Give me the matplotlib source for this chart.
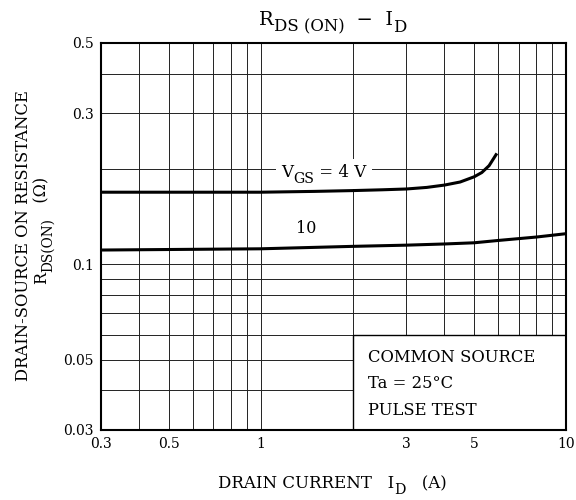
import matplotlib
matplotlib.use("Agg")
import matplotlib.pyplot as plt
from matplotlib.patches import Rectangle
from matplotlib.ticker import FixedLocator, NullFormatter
from matplotlib.transforms import IdentityTransform

plt.rcParams['font.family'] = ['DejaVu Serif']

# VGS = 4 V curve
id_4v = [0.3, 0.5, 1, 1.5, 2, 2.5, 3, 3.5, 4, 4.5, 5, 5.3, 5.6, 5.9]
r_4v = [0.169, 0.169, 0.169, 0.170, 0.171, 0.172, 0.173, 0.175, 0.178, 0.182, 0.189, 0.195, 0.205, 0.222]

# VGS = 10 V curve
id_10v = [0.3, 1, 2, 3, 4, 5, 6, 8, 10]
r_10v = [0.111, 0.112, 0.114, 0.115, 0.116, 0.117, 0.119, 0.122, 0.125]

x_major = [0.3, 0.5, 1, 3, 5, 10]
x_labels = ['0.3', '0.5', '1', '3', '5', '10']
x_minor = [0.4, 0.6, 0.7, 0.8, 0.9, 2, 4, 6, 7, 8, 9]
y_major = [0.03, 0.05, 0.1, 0.3, 0.5]
y_labels = ['0.03', '0.05', '0.1', '0.3', '0.5']
y_minor = [0.04, 0.06, 0.07, 0.08, 0.09, 0.2, 0.4]

fig = plt.figure(figsize=(5.76, 5.0), dpi=100)
ax = fig.add_axes([101/576, 1-430/500, 465/576, 387/500])
ax.set_xscale('log')
ax.set_yscale('log')
ax.set_xlim(0.3, 10)
ax.set_ylim(0.03, 0.5)

ax.xaxis.set_major_locator(FixedLocator(x_major))
ax.xaxis.set_minor_locator(FixedLocator(x_minor))
ax.yaxis.set_major_locator(FixedLocator(y_major))
ax.yaxis.set_minor_locator(FixedLocator(y_minor))
ax.set_xticklabels(x_labels)
ax.set_yticklabels(y_labels)
ax.xaxis.set_minor_formatter(NullFormatter())
ax.yaxis.set_minor_formatter(NullFormatter())
ax.tick_params(which='both', length=0, labelsize=10)
ax.tick_params(axis='x', pad=5)
ax.tick_params(axis='y', pad=5)
ax.grid(which='both', color='#222222', linewidth=0.7)
ax.set_axisbelow(True)
for s in ax.spines.values():
    s.set_linewidth(1.5)

ax.plot(id_4v, r_4v, color='black', linewidth=2.2, zorder=3)
ax.plot(id_10v, r_10v, color='black', linewidth=2.2, zorder=3)

renderer = fig.canvas.get_renderer()


def rich_text(host, x, y, parts, size, rotation=0, center=True, **kw):
    # parts: (text, is_subscript); x, y in pixels, y from bottom, at baseline
    texts = []
    cursor = 0.0
    px = size * 100 / 72
    for s, sub in parts:
        fs = size * 0.85 if sub else size
        drop = 0.35 * px if sub else 0.0
        if rotation == 0:
            t = host.text(x + cursor, y - drop, s, fontsize=fs, ha='left', va='baseline',
                          transform=IdentityTransform(), **kw)
            cursor += t.get_window_extent(renderer).width
        else:
            t = host.text(x + drop, y + cursor, s, fontsize=fs, ha='left', va='baseline',
                          rotation=90, rotation_mode='anchor',
                          transform=IdentityTransform(), **kw)
            cursor += t.get_window_extent(renderer).height
        texts.append(t)
    if center:
        for t in texts:
            tx, ty = t.get_position()
            if rotation == 0:
                t.set_position((tx - cursor / 2, ty))
            else:
                t.set_position((tx, ty - cursor / 2))
    return texts


# title and axis labels (pixel positions, origin bottom-left)
rich_text(fig, 333, 475, [('R', False), ('DS (ON)', True), ('  −  I', False), ('D', True)], 14)
rich_text(fig, 332, 12, [('DRAIN CURRENT   I', False), ('D', True), ('   (A)', False)], 12)
rich_text(fig, 28, 264, [('DRAIN-SOURCE ON RESISTANCE', False)], 11.8, rotation=90)
rich_text(fig, 46, 270, [('R', False), ('DS(ON)', True), ('   (Ω)', False)], 11.5, rotation=90)

# VGS = 4 V label with white patch behind it
lx, ly = ax.transData.transform((1.17, 0.189))
vgs = rich_text(ax, lx, ly, [('V', False), ('GS', True), (' = 4 V', False)], 12,
                center=False, zorder=4)
ext = [t.get_window_extent(renderer) for t in vgs]
x0 = min(e.x0 for e in ext) - 5
x1 = max(e.x1 for e in ext) + 5
y0 = min(e.y0 for e in ext) - 3
y1 = max(e.y1 for e in ext) + 5
ax.add_patch(Rectangle((x0, y0), x1 - x0, y1 - y0, facecolor='white', edgecolor='none',
                       transform=IdentityTransform(), zorder=1.5))
ax.text(1.41, 0.130, '10', fontsize=11.5, ha='center', va='center', zorder=4)

# condition box
ax.add_patch(Rectangle((2, 0.03), 8, 0.03, facecolor='white', edgecolor='black',
                       linewidth=1.0, zorder=2.5))
ax.text(2.24, 0.0491, 'COMMON SOURCE', fontsize=11.8, va='baseline', zorder=4)
ax.text(2.24, 0.0408, 'Ta = 25°C', fontsize=11.8, va='baseline', zorder=4)
ax.text(2.24, 0.0335, 'PULSE TEST', fontsize=11.8, va='baseline', zorder=4)

fig.savefig('out.png', dpi=100, facecolor='white')
